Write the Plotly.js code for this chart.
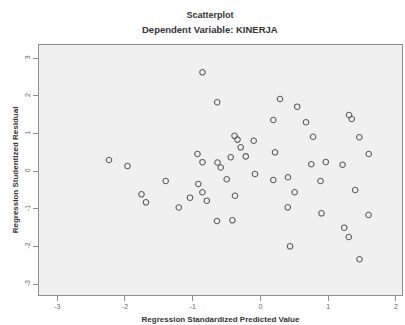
<!DOCTYPE html>
<html>
<head>
<meta charset="utf-8">
<script src="https://cdn.plot.ly/plotly-3.0.1.min.js"></script>
<style>html,body{margin:0;padding:0;background:#fff;}#chart{width:405px;height:325px;}</style>
</head>
<body>
<div id="chart"></div>
<script>
// Regression Standardized Predicted Value
const predicted = [-0.855,-0.638,0.289,0.543,0.190,0.673,1.308,1.348,-0.382,-0.338,
  -0.099,-0.291,0.777,1.460,-0.438,-0.216,0.216,1.599,-0.929,-0.855,
  -0.633,-0.586,0.751,0.965,1.213,-2.235,-1.962,-1.398,-1.755,-1.689,
  -1.205,-0.917,-0.856,-1.039,-0.791,-0.497,-0.375,-0.641,-0.413,-0.080,
  0.190,0.407,0.887,0.506,1.399,0.404,0.902,1.596,1.237,1.304,0.437,1.463];
// Regression Studentized Residual
const residual = [2.628,1.834,1.919,1.715,1.362,1.301,1.495,1.388,0.942,0.842,
  0.810,0.637,0.918,0.903,0.372,0.396,0.504,0.459,0.459,0.242,
  0.234,0.101,0.186,0.247,0.173,0.300,0.141,-0.258,-0.611,-0.823,
  -0.961,-0.337,-0.557,-0.701,-0.780,-0.210,-0.648,-1.319,-1.301,-0.072,
  -0.231,-0.159,-0.258,-0.557,-0.496,-0.956,-1.115,-1.160,-1.497,-1.744,-1.991,-2.336];
const xTicks = [-3,-2,-1,0,1,2];
const yTicks = [-3,-2,-1,0,1,2,3];

const trace = {
  x: predicted, y: residual, type: 'scatter', mode: 'markers',
  marker: {symbol: 'circle-open', size: 5.5, color: '#5e5e5e', line: {width: 1.1, color: '#5e5e5e'}},
  hoverinfo: 'x+y'
};
const axisFont = {family: 'Liberation Sans, Arial, sans-serif', size: 7, color: '#666'};
const layout = {
  width: 405, height: 325,
  margin: {l: 39, r: 3, t: 45, b: 30},
  paper_bgcolor: '#ffffff', plot_bgcolor: '#f0f0f0',
  showlegend: false,
  title: {text: 'Scatterplot', x: 210/405, xanchor: 'center', y: 1 - 15/325, yanchor: 'middle',
    font: {family: 'Liberation Sans, Arial, sans-serif', size: 9, color: '#333', weight: 'bold'}},
  annotations: [{text: 'Dependent Variable: KINERJA', xref: 'paper', yref: 'paper',
    x: (210-39)/363, y: 1 + (45-30)/250, xanchor: 'center', yanchor: 'middle', showarrow: false,
    font: {family: 'Liberation Sans, Arial, sans-serif', size: 9.5, color: '#333', weight: 'bold'}}],
  xaxis: {
    range: [-3.268, 2.09], tickvals: xTicks, ticktext: xTicks.map(String),
    showgrid: false, zeroline: false, showline: true, mirror: true, linecolor: '#8c8c8c', linewidth: 1,
    ticks: 'outside', ticklen: 5, tickcolor: '#8c8c8c', tickfont: axisFont,
    title: {text: 'Regression Standardized Predicted Value', standoff: 6,
      font: {family: 'Liberation Sans, Arial, sans-serif', size: 8, color: '#333', weight: 'bold'}}
  },
  yaxis: {
    range: [-3.284, 3.353], tickvals: yTicks, ticktext: yTicks.map(String), tickangle: -90,
    showgrid: false, zeroline: false, showline: true, mirror: true, linecolor: '#8c8c8c', linewidth: 1,
    ticks: 'outside', ticklen: 5, tickcolor: '#8c8c8c', tickfont: axisFont,
    title: {text: 'Regression Studentized Residual', standoff: 4,
      font: {family: 'Liberation Sans, Arial, sans-serif', size: 8, color: '#333', weight: 'bold'}}
  }
};
Plotly.newPlot('chart', [trace], layout, {displayModeBar: false, staticPlot: true});
</script>
</body>
</html>
